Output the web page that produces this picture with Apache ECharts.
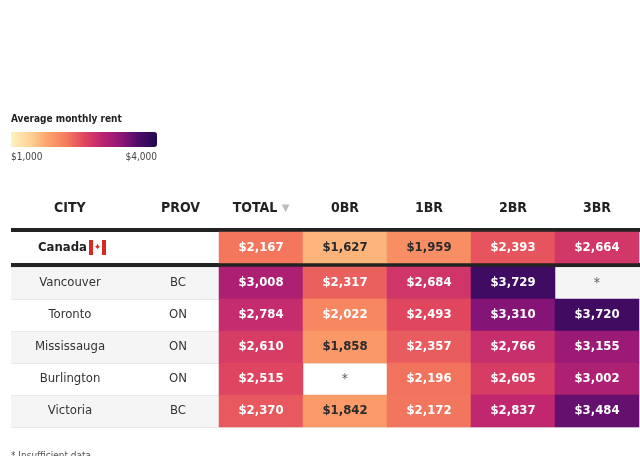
<!DOCTYPE html>
<html>
<head>
<meta charset="utf-8">
<script src="https://cdn.jsdelivr.net/npm/echarts@6/dist/echarts.min.js"></script>
<style>
  html, body { margin: 0; padding: 0; background: #fff; }
  #main { width: 640px; height: 456px; overflow: hidden; }
</style>
</head>
<body>
<div id="main"></div>
<script>
// data
var columns = ['TOTAL', '0BR', '1BR', '2BR', '3BR'];
var headers = ['CITY', 'PROV'];
var cities = ['Vancouver', 'Toronto', 'Mississauga', 'Burlington', 'Victoria'];
var provs = ['BC', 'ON', 'ON', 'ON', 'BC'];
var canadaRent = [2167, 1627, 1959, 2393, 2664];
var vancouverRent = [3008, 2317, 2684, 3729, null];
var torontoRent = [2784, 2022, 2493, 3310, 3720];
var mississaugaRent = [2610, 1858, 2357, 2766, 3155];
var burlingtonRent = [2515, null, 2196, 2605, 3002];
var victoriaRent = [2370, 1842, 2172, 2837, 3484];
var legendTicks = ['$1,000', '$4,000'];
var legendTitle = 'Average monthly rent';
var footNote = '* Insufficient data';

var FONT = "'Liberation Sans Narrow', 'DejaVu Sans Condensed', 'Roboto', sans-serif";
var palette = ['#fdf2bf', '#fed49a', '#fca46c', '#f57c5d', '#e0465f', '#bd2471', '#8f1778', '#4c0c69', '#22084e'];

function money(v) {
    return '$' + v.toLocaleString('en-US');
}

// heatmap items, label colour depends on the cell value
function toCells(rows) {
    var cells = [], missing = [];
    for (var r = 0; r < rows.length; r++) {
        for (var c = 0; c < rows[r].length; c++) {
            var v = rows[r][c];
            if (v == null) {
                missing.push([c, r]);
                continue;
            }
            cells.push({
                value: [c, r, v],
                label: {color: v < 2000 ? '#2a2a2a' : '#ffffff'}
            });
        }
    }
    return {cells: cells, missing: missing};
}

var canadaCells = toCells([canadaRent]);
var cityCells = toCells([vancouverRent, torontoRent, mississaugaRent, burlingtonRent, victoriaRent]);

var cellLabel = {
    show: true,
    fontFamily: FONT,
    fontSize: 13,
    fontWeight: 'bold',
    formatter: function (p) { return money(p.value[2]); }
};

var rowRich = {
    c: {width: 118, align: 'center', fontFamily: FONT, fontSize: 13, color: '#333'},
    s: {width: 8},
    p: {width: 82, align: 'center', fontFamily: FONT, fontSize: 13, color: '#333'}
};

var chart = echarts.init(document.getElementById('main'));
chart.setOption({
    backgroundColor: '#fff',
    animation: false,
    grid: [
        {left: 11, right: 0, top: 267, height: 160},   // stripes
        {left: 219, right: 1, top: 232, height: 31},   // Canada row
        {left: 219, right: 1, top: 267, height: 160}   // city rows
    ],
    xAxis: [
        {gridIndex: 0, type: 'category', data: [''], show: false},
        {
            gridIndex: 1, type: 'category', data: columns, position: 'top',
            axisLine: {show: false}, axisTick: {show: false},
            axisLabel: {
                interval: 0, margin: 17, fontFamily: FONT, fontSize: 14, fontWeight: 'bold', color: '#222',
                formatter: function (v, i) { return i === 0 ? v + ' {t|▼}' : v; },
                rich: {t: {color: '#bdbdbd', fontSize: 10, fontFamily: 'DejaVu Sans'}}
            }
        },
        {gridIndex: 2, type: 'category', data: columns, show: false}
    ],
    yAxis: [
        {
            gridIndex: 0, type: 'category', data: cities, inverse: true,
            axisLine: {show: false}, axisTick: {show: false}, axisLabel: {show: false},
            splitArea: {show: true, areaStyle: {color: ['#f5f5f5', '#ffffff']}},
            splitLine: {show: true, lineStyle: {color: '#e9e9e9', width: 1}}
        },
        {
            gridIndex: 1, type: 'category', data: ['Canada'], z: 5,
            axisLine: {show: false}, axisTick: {show: false},
            axisLabel: {
                margin: 0, align: 'right',
                formatter: function (v) { return '{pre| }{cn|' + v + '}{r| }{l|✦}{r| }{rest| }'; },
                rich: {
                    pre: {width: 25},
                    cn: {width: 53, align: 'left', fontFamily: FONT, fontSize: 13, fontWeight: 'bold', color: '#222'},
                    r: {width: 4, height: 15, backgroundColor: '#d52b1e'},
                    l: {width: 9, height: 15, align: 'center', color: '#d52b1e', fontSize: 9, fontFamily: 'DejaVu Sans'},
                    rest: {width: 113}
                }
            }
        },
        {
            gridIndex: 2, type: 'category', data: cities, inverse: true, z: 5,
            axisLine: {show: false}, axisTick: {show: false},
            axisLabel: {
                margin: 0, align: 'right',
                formatter: function (v, i) { return '{c|' + v + '}{s| }{p|' + provs[i] + '}'; },
                rich: rowRich
            }
        }
    ],
    visualMap: {
        type: 'continuous', min: 1000, max: 4000, seriesIndex: [0, 1],
        orient: 'horizontal', left: 11, top: 132, padding: 0,
        itemWidth: 15, itemHeight: 146, calculable: false, text: null,
        inRange: {color: palette}
    },
    graphic: [
        {type: 'rect', left: 11, top: 228, shape: {width: 629, height: 4}, style: {fill: '#222'}},
        {type: 'rect', left: 11, top: 263, shape: {width: 629, height: 4}, style: {fill: '#222'}},
        {type: 'text', left: 11, top: 114, style: {text: legendTitle, font: 'bold 10px ' + FONT, fill: '#222'}},
        {type: 'text', left: 11, top: 152, style: {text: legendTicks[0], font: '10px ' + FONT, fill: '#444'}},
        {type: 'text', right: 483, top: 152, style: {text: legendTicks[1], font: '10px ' + FONT, fill: '#444', align: 'right'}},
        {type: 'text', left: 54, top: 201, style: {text: headers[0], font: 'bold 14px ' + FONT, fill: '#222'}},
        {type: 'text', left: 161, top: 201, style: {text: headers[1], font: 'bold 14px ' + FONT, fill: '#222'}},
        {type: 'text', left: 11, top: 451, style: {text: footNote, font: '10px ' + FONT, fill: '#555'}}
    ],
    series: [
        {
            type: 'heatmap', xAxisIndex: 1, yAxisIndex: 1,
            data: canadaCells.cells, label: cellLabel,
            emphasis: {disabled: true}
        },
        {
            type: 'heatmap', xAxisIndex: 2, yAxisIndex: 2,
            data: cityCells.cells, label: cellLabel,
            emphasis: {disabled: true}
        },
        {
            type: 'scatter', xAxisIndex: 2, yAxisIndex: 2,
            data: cityCells.missing, symbolSize: 0,
            label: {show: true, position: 'inside', formatter: '*', color: '#333', fontSize: 14, fontFamily: FONT}
        }
    ]
});
</script>
</body>
</html>
